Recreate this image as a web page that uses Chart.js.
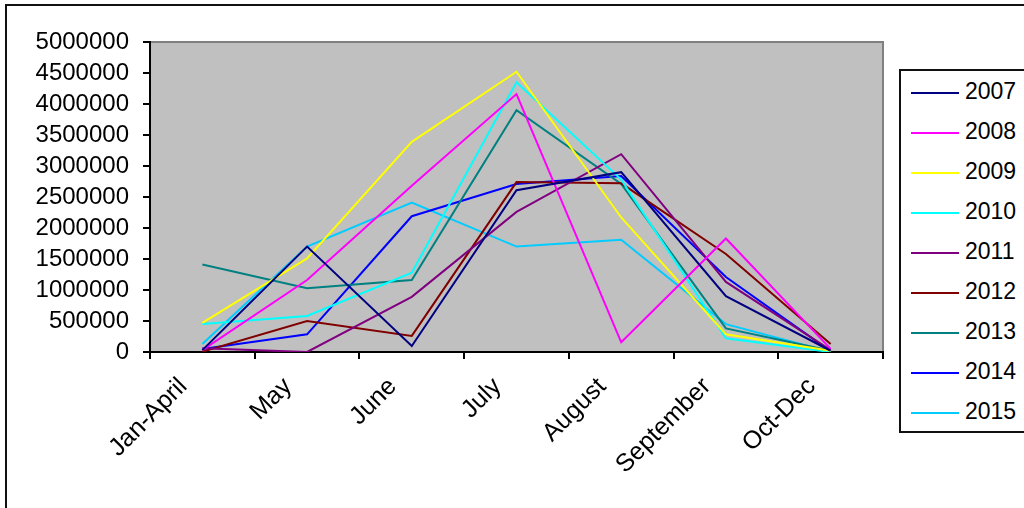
<!DOCTYPE html>
<html>
<head>
<meta charset="utf-8">
<script src="https://cdn.jsdelivr.net/npm/chart.js@4/dist/chart.umd.min.js"></script>
<style>
    body { margin: 0; background: #fff; overflow: hidden; }
    #marco { position: absolute; left: 5px; top: 4px; width: 1100px; height: 600px; border: 2px solid #111; }
    #grafico { position: absolute; left: 0; top: 0; }
    #leyenda { position: absolute; left: 899px; top: 69px; width: 140px; height: 360px; border: 2px solid #111; background: #fff;
               font-family: "Liberation Sans", Arial, sans-serif; font-size: 23px; color: #000; }
    .item { position: absolute; left: 10px; height: 40px; line-height: 40px; white-space: nowrap; }
    .item span.linea { display: inline-block; width: 48px; height: 2px; vertical-align: middle; margin-right: 6px; }
</style>
</head>
<body>
<div id="marco"></div>
<canvas id="grafico" width="1024" height="508"></canvas>
<div id="leyenda"></div>
<script>
var categorias = ['Jan-April', 'May', 'June', 'July', 'August', 'September', 'Oct-Dec'];
var anios = ['2007', '2008', '2009', '2010', '2011', '2012', '2013', '2014', '2015'];

var s2007 = [30000, 1700000, 97000, 2610000, 2900000, 900000, 20000];
var s2008 = [30000, 1160000, 2680000, 4160000, 156000, 1830000, 50000];
var s2009 = [470000, 1510000, 3390000, 4520000, 2170000, 285000, 20000];
var s2010 = [450000, 580000, 1280000, 4350000, 2780000, 220000, 0];
var s2011 = [60000, 0, 890000, 2260000, 3190000, 1130000, 30000];
var s2012 = [5000, 500000, 260000, 2740000, 2720000, 1580000, 130000];
var s2013 = [1410000, 1030000, 1160000, 3900000, 2710000, 380000, 20000];
var s2014 = [50000, 285000, 2190000, 2710000, 2840000, 1210000, 10000];
var s2015 = [130000, 1700000, 2410000, 1700000, 1810000, 450000, 0];

var series = [s2007, s2008, s2009, s2010, s2011, s2012, s2013, s2014, s2015];
var colores = ['#000080', '#FF00FF', '#FFFF00', '#00FFFF', '#800080', '#800000', '#008080', '#0000FF', '#00CCFF'];

var fuente = '"Liberation Sans", Arial, sans-serif';

// fondo gris del area de trazado
var fondoPlot = {
    id: 'fondoPlot',
    beforeDraw: function (chart) {
        var ctx = chart.ctx;
        var a = chart.chartArea;
        ctx.save();
        ctx.fillStyle = '#C0C0C0';
        ctx.fillRect(a.left, a.top, a.right - a.left, a.bottom - a.top);
        ctx.strokeStyle = '#808080';
        ctx.lineWidth = 2;
        ctx.beginPath();
        ctx.moveTo(a.left, a.top);
        ctx.lineTo(a.right, a.top);
        ctx.lineTo(a.right, a.bottom);
        ctx.stroke();
        ctx.restore();
    }
};

var datasets = [];
for (var i = 0; i < series.length; i++) {
    datasets.push({
        label: anios[i],
        data: series[i],
        borderColor: colores[i],
        backgroundColor: colores[i],
        borderWidth: 2,
        pointRadius: 0,
        tension: 0,
        fill: false
    });
}

var GRAFICO = new Chart(document.getElementById('grafico'), {
    type: 'line',
    data: {
        labels: categorias,
        datasets: datasets
    },
    options: {
        responsive: false,
        devicePixelRatio: 1,
        animation: false,
        layout: {
            padding: { left: 0, top: 42, right: 141, bottom: 0 }
        },
        plugins: {
            legend: { display: false },
            tooltip: { enabled: false }
        },
        scales: {
            x: {
                offset: true,
                grid: {
                    offset: true,
                    drawOnChartArea: false,
                    drawTicks: true,
                    tickLength: 7,
                    color: '#000',
                    lineWidth: 2
                },
                border: { display: true, color: '#000', width: 2 },
                ticks: {
                    color: '#000',
                    font: { family: fuente, size: 25 },
                    minRotation: 45,
                    maxRotation: 45,
                    padding: 13,
                    labelOffset: -19,
                    autoSkip: false
                },
                afterFit: function (scale) {
                    scale.height = 156;
                }
            },
            y: {
                min: 0,
                max: 5000000,
                grid: {
                    drawOnChartArea: false,
                    drawTicks: true,
                    tickLength: 7,
                    color: '#000',
                    lineWidth: 2
                },
                border: { display: true, color: '#000', width: 2 },
                ticks: {
                    stepSize: 500000,
                    autoSkip: false,
                    color: '#000',
                    font: { family: fuente, size: 24 },
                    padding: 14,
                    callback: function (v) {
                        return String(v);
                    }
                },
                afterFit: function (scale) {
                    scale.width = 150;
                }
            }
        }
    },
    plugins: [fondoPlot]
});

function armarLeyenda() {
    var html = '';
    for (var i = 0; i < anios.length; i++) {
        html += '<div class="item" style="top:' + (i * 40) + 'px">' +
                '<span class="linea" style="background:' + colores[i] + '"></span>' + anios[i] +
                '</div>';
    }
    document.getElementById('leyenda').innerHTML = html;
}
armarLeyenda();
</script>
</body>
</html>
